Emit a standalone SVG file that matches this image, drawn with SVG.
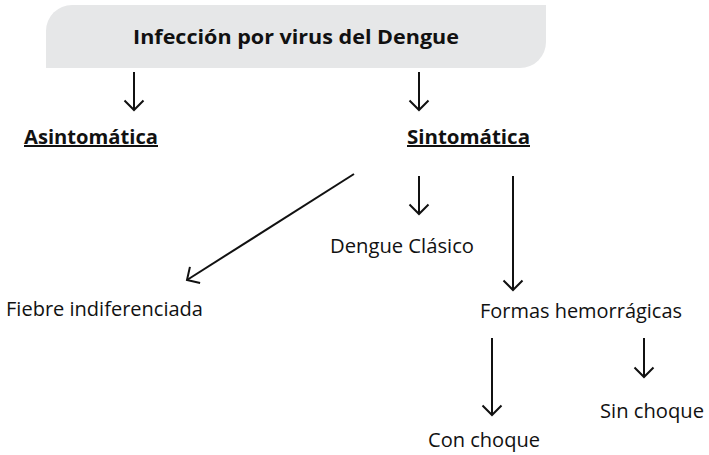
<svg xmlns="http://www.w3.org/2000/svg" width="709" height="455" viewBox="0 0 709 455">
<style>
  .t { font-family: "Open Sans", "Noto Sans", "Liberation Sans", sans-serif; font-size: 20px; fill: #111; }
  .b { font-weight: bold; font-size: 20px; }
  .u { text-decoration: underline; }
  .c { stroke: #111; stroke-width: 2; fill: none; }
</style>
<defs>
  <marker id="ah" viewBox="0 0 24 24" refX="12" refY="12" markerWidth="24" markerHeight="24" markerUnits="userSpaceOnUse" orient="auto">
    <path d="M2.5,2.5 L12,12 L2.5,21.5" fill="none" stroke="#111" stroke-width="2"/>
  </marker>
</defs>
<rect width="709" height="455" fill="#fff"/>
<g id="root">
  <path d="M72,5 H546 V42 A26,26 0 0 1 520,68 H46 V31 A26,26 0 0 1 72,5 Z" fill="#e6e7e8"/>
  <text class="t b" x="296" y="44" text-anchor="middle" textLength="326" lengthAdjust="spacingAndGlyphs">Infección por virus del Dengue</text>
</g>
<g id="asintomatica">
  <text class="t b u" x="24" y="144" textLength="134" lengthAdjust="spacingAndGlyphs">Asintomática</text>
</g>
<g id="sintomatica">
  <text class="t b u" x="407" y="144" textLength="123" lengthAdjust="spacingAndGlyphs">Sintomática</text>
</g>
<g id="fiebre">
  <text class="t" x="6" y="316" textLength="197" lengthAdjust="spacingAndGlyphs">Fiebre indiferenciada</text>
</g>
<g id="clasico">
  <text class="t" x="330" y="253" textLength="144" lengthAdjust="spacingAndGlyphs">Dengue Clásico</text>
</g>
<g id="hemorragicas">
  <text class="t" x="480" y="318" textLength="202" lengthAdjust="spacingAndGlyphs">Formas hemorrágicas</text>
</g>
<g id="con-choque">
  <text class="t" x="428" y="447" textLength="112" lengthAdjust="spacingAndGlyphs">Con choque</text>
</g>
<g id="sin-choque">
  <text class="t" x="600" y="418" textLength="104" lengthAdjust="spacingAndGlyphs">Sin choque</text>
</g>
<g id="connectors">
  <line class="c" x1="134" y1="72" x2="134" y2="110" marker-end="url(#ah)"/>
  <line class="c" x1="419" y1="72" x2="419" y2="110" marker-end="url(#ah)"/>
  <line class="c" x1="354" y1="174" x2="187" y2="280" marker-end="url(#ah)"/>
  <line class="c" x1="419" y1="176" x2="419" y2="214" marker-end="url(#ah)"/>
  <line class="c" x1="513" y1="176" x2="513" y2="290" marker-end="url(#ah)"/>
  <line class="c" x1="492" y1="338" x2="492" y2="415" marker-end="url(#ah)"/>
  <line class="c" x1="644" y1="338" x2="644" y2="377" marker-end="url(#ah)"/>
</g>
</svg>
